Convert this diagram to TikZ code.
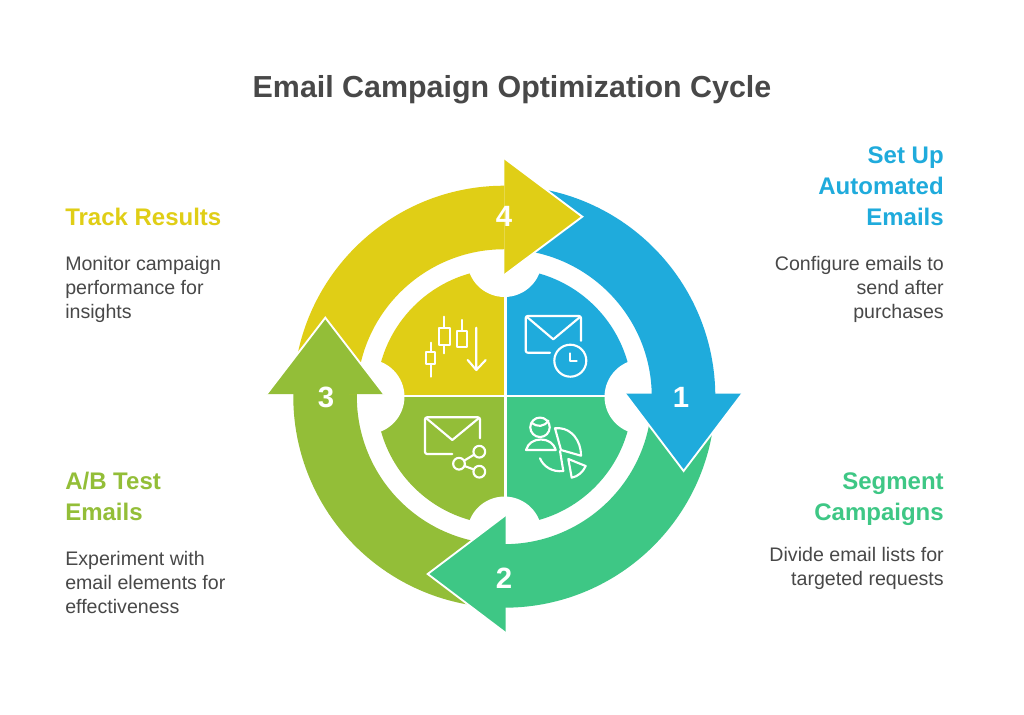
\documentclass[tikz,border=0pt]{standalone}
\usepackage{fontspec}
\setmainfont{Liberation Sans}
\definecolor{cblue}{HTML}{1FABDC}
\definecolor{cgreen}{HTML}{3EC785}
\definecolor{clime}{HTML}{93BE38}
\definecolor{cyel}{HTML}{E0CE16}
\definecolor{ctext}{HTML}{484848}
\tikzset{
  x=0.75pt,y=-0.75pt,
  icon/.style={draw=white,line width=1.6pt,line cap=round,line join=round,fill=none},
  edge/.style={draw=white,line width=1.4pt,line cap=round},
  num/.style={text=white,font=\bfseries\fontsize{22}{26}\selectfont,anchor=center,inner sep=0pt},
  headl/.style={font=\bfseries\fontsize{18}{23.25}\selectfont,align=left,anchor=north west,inner sep=0pt},
  headr/.style={font=\bfseries\fontsize{18}{23.25}\selectfont,align=right,anchor=north east,inner sep=0pt},
  bodyl/.style={text=ctext,font=\fontsize{14.7}{18}\selectfont,align=left,anchor=north west,inner sep=0pt},
  bodyr/.style={text=ctext,font=\fontsize{14.7}{18}\selectfont,align=right,anchor=north east,inner sep=0pt},
}
\def\cx{504.3}\def\cy{396.7}
\newcommand{\shaft}[3]{% colour, start, end
  \fill[#1] (\cx,\cy) ++(#2:158.25pt) arc[start angle=#2,end angle=#3,radius=158.25pt]
    -- ([shift={(#3:110.6pt)}]\cx,\cy) arc[start angle=#3,end angle=#2,radius=110.6pt] -- cycle;}
\newcommand{\sect}[3]{% colour, start, end
  \fill[#1] (\cx,\cy) -- ++(#2:96pt) arc[start angle=#2,end angle=#3,radius=96pt] -- cycle;}
\begin{document}
\begin{tikzpicture}
\useasboundingbox[fill=white] (0,0) rectangle (1024,714);
% inner sectors
\sect{cyel}{90}{180}\sect{cblue}{0}{90}\sect{cgreen}{270}{360}\sect{clime}{180}{270}
\fill[white] (364,394.9) rectangle (644,397.4);
\fill[white] (504.4,250) rectangle (506.8,540);
\foreach \px/\py in {504.5/259.5,504.5/534,642/396.7,367/396.7}{\fill[white] (\px,\py) circle[radius=28.1pt];}
% shafts
\shaft{cblue}{89}{0}
\shaft{cgreen}{358}{269}
\shaft{clime}{269}{178}
\shaft{cyel}{179}{90}
% heads
\fill[cyel] (504.3,158.3) -- (582.3,216.7) -- (504.3,275) -- cycle;
\draw[edge] (504.3,158.3) -- (582.3,216.7) -- (504.3,275);
\fill[cblue] (625,393.5) -- (742.3,393.5) -- (683.6,471) -- cycle;
\draw[edge] (625,393.5) -- (683.6,471) -- (742.3,393.5);
\fill[cgreen] (505.7,515) -- (427.7,574) -- (505.7,633) -- cycle;
\draw[edge] (505.7,515) -- (427.7,574) -- (505.7,633);
\fill[clime] (266.7,394) -- (325.3,317.7) -- (384,394) -- cycle;
\draw[edge] (266.7,394) -- (325.3,317.7) -- (384,394);
% numbers
\node[num] (n4) at (504,216) {4};
\node[num] (n1) at (681,397) {1};
\node[num] (n2) at (504,578) {2};
\node[num] (n3) at (326,397) {3};
% blue icon
\draw[icon] (581,340.7) -- (581,318) arc[start angle=0,end angle=90,radius=1.5pt] -- (527.7,316) arc[start angle=90,end angle=180,radius=1.5pt] -- (525.7,350.7) arc[start angle=180,end angle=270,radius=1.5pt] -- (550,352.7);
\draw[icon] (527,317) -- (553.3,339.3) -- (580,317);
\draw[icon] (570.3,360.7) circle[radius=12pt];
\draw[icon] (570,353.3) -- (570,360.7) -- (576.7,360.7);
% yellow icon
\draw[icon] (430.7,342.7) -- (430.7,351.7) (430.7,364) -- (430.7,376.7);
\draw[icon] (425.7,351.7) rectangle (435.3,364);
\draw[icon] (444.3,316.7) -- (444.3,327.7) (444.3,345) -- (444.3,353.3);
\draw[icon] (439.3,327.7) rectangle (450,345);
\draw[icon] (462,320) -- (462,330.7);
\draw[icon] (456.7,330.7) rectangle (467,347.3);
\draw[icon] (476.3,327.7) -- (476.3,370) (467.7,360) -- (476.3,370) -- (485.7,360);
% lime icon
\draw[icon] (480,438.3) -- (480,419.3) arc[start angle=0,end angle=90,radius=1.5pt] -- (427,417.3) arc[start angle=90,end angle=180,radius=1.5pt] -- (425,452) arc[start angle=180,end angle=270,radius=1.5pt] -- (452.3,454);
\draw[icon] (426,418) -- (452.3,440) -- (479,418);
\draw[icon] (479.3,451.7) circle[radius=4.4pt] (459,463.7) circle[radius=4.4pt] (479.3,471.7) circle[radius=4.4pt];
\draw[icon] (464,460.7) -- (474,454.7) (464.5,466) -- (474,469.5);
% green icon
\draw[icon] (540,427.3) circle[radius=7.3pt];
\draw[icon] (531.5,422.5) .. controls (537,427.5) and (544,427) .. (548.5,420.7);
\draw[icon] (526,450) .. controls (528,443) and (534,439.5) .. (540.8,439.5) .. controls (548,439.5) and (553.5,443) .. (555.7,450) -- cycle;
\draw[icon] (555,428.3) -- (560,428.3) .. controls (571,429) and (581,440) .. (581,455.7) -- (561,450) -- cycle;
\draw[icon] (540,458.3) .. controls (543,466) and (552,472.5) .. (563.3,471) -- (560,451);
\draw[icon] (568.3,459) -- (585.7,466) .. controls (583,472) and (578,476.5) .. (571.7,477.7) -- cycle;
% titles
\node[text=ctext,font=\bfseries\fontsize{22.8}{28}\selectfont,anchor=center,inner sep=0pt] (title) at (512,89.5) {Email Campaign Optimization Cycle};
\node[headl,text=cyel] (h4) at (65,208) {Track Results};
\node[bodyl] (b4) at (65,256.5) {Monitor campaign\\performance for\\insights};
\node[headr,text=cblue] (h1) at (944,146) {Set Up\\Automated\\Emails};
\node[bodyr] (b1) at (944,256.5) {Configure emails to\\send after\\purchases};
\node[headr,text=cgreen] (h2) at (944,472) {Segment\\Campaigns};
\node[bodyr] (b2) at (944,547.5) {Divide email lists for\\targeted requests};
\node[headl,text=clime] (h3) at (65,472) {A/B Test\\Emails};
\node[bodyl] (b3) at (65,551) {Experiment with\\email elements for\\effectiveness};
\end{tikzpicture}
\end{document}
